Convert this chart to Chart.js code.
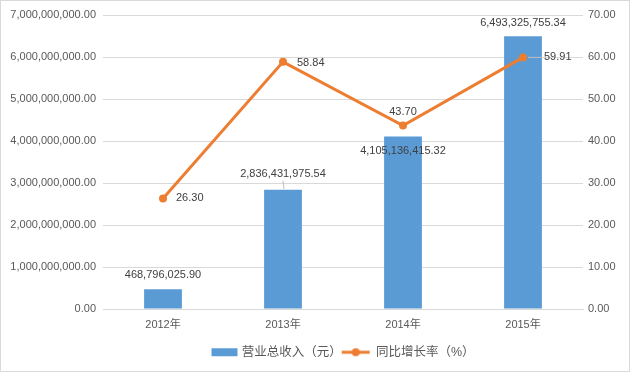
<!DOCTYPE html>
<html>
<head>
<meta charset="utf-8">
<script src="https://cdn.jsdelivr.net/npm/chart.js@4/dist/chart.umd.min.js"></script>
<style>
    body { margin: 0; background: #fff; }
    #wrap { width: 630px; height: 372px; box-sizing: border-box; border: 1px solid #d9d9d9; }
</style>
</head>
<body>
<div id="wrap"><canvas id="myChart" width="628" height="370"></canvas></div>
<script>
// revenue and growth, 2012-2015
const years = ['2012年', '2013年', '2014年', '2015年']
const revenue = [468796025.90, 2836431975.54, 4105136415.32, 6493325755.34]
const growth = [26.30, 58.84, 43.70, 59.91]
const revenueName = '营业总收入（元）'
const growthName = '同比增长率（%）'

// label placement, relative to the mark (dx, dy of the text)
const barLabelPos = [[0, -14], [0, -16], [0, 14], [0, -13]]
const lineLabelPos = [['left', 13, -1], ['left', 14, 1], ['center', 0, -13], ['left', 21, 0]]

const FONT = '"Liberation Sans", "Noto Sans CJK SC", sans-serif'
const BLUE = '#5B9BD5'
const ORANGE = '#ED7D31'

function fmtMoney(v) {
    return Number(v).toLocaleString('en-US', { minimumFractionDigits: 2, maximumFractionDigits: 2 })
}

// legend symbols (drawn centred on the legend box, so pad the canvas)
function makeSymbol(kind) {
    const c = document.createElement('canvas')
    c.width = 52
    c.height = 10
    const g = c.getContext('2d')
    if (kind == 'bar') {
        g.fillStyle = BLUE
        g.fillRect(14, 1, 26, 8)
    } else {
        g.strokeStyle = ORANGE
        g.lineWidth = 3
        g.beginPath()
        g.moveTo(10, 5)
        g.lineTo(38, 5)
        g.stroke()
        g.fillStyle = ORANGE
        g.beginPath()
        g.arc(24, 5, 4, 0, Math.PI * 2)
        g.fill()
    }
    return c
}
const legendSymbols = [makeSymbol('bar'), makeSymbol('line')]

const valueLabels = {
    id: 'valueLabels',
    afterDatasetsDraw(chart) {
        const ctx = chart.ctx
        ctx.save()
        ctx.font = '11px ' + FONT
        ctx.fillStyle = '#404040'
        ctx.textBaseline = 'middle'

        const bars = chart.getDatasetMeta(0).data
        bars.forEach((el, i) => {
            const [dx, dy] = barLabelPos[i]
            ctx.textAlign = 'center'
            ctx.fillText(fmtMoney(revenue[i]), el.x + dx, el.y + dy)
        })
        // small leader for 2013 bar label
        ctx.strokeStyle = '#bfbfbf'
        ctx.lineWidth = 1
        ctx.beginPath()
        ctx.moveTo(bars[1].x, bars[1].y + barLabelPos[1][1] + 7)
        ctx.lineTo(bars[1].x + 1, bars[1].y - 1)
        ctx.stroke()

        const pts = chart.getDatasetMeta(1).data
        pts.forEach((el, i) => {
            const [align, dx, dy] = lineLabelPos[i]
            ctx.textAlign = align
            ctx.fillText(growth[i].toFixed(2), el.x + dx, el.y + dy)
        })
        // leader for 2015 point label
        ctx.beginPath()
        ctx.moveTo(pts[3].x + 5, pts[3].y)
        ctx.lineTo(pts[3].x + lineLabelPos[3][1] - 2, pts[3].y)
        ctx.stroke()
        ctx.restore()
    }
}

const ctx = document.getElementById('myChart')
new Chart(ctx, {
    type: 'bar',
    data: {
        labels: years,
        datasets: [{
            type: 'bar',
            label: revenueName,
            data: revenue,
            backgroundColor: BLUE,
            yAxisID: 'y',
            order: 1,
            barPercentage: 0.63,
            categoryPercentage: 0.5
        }, {
            type: 'line',
            label: growthName,
            data: growth,
            borderColor: ORANGE,
            backgroundColor: ORANGE,
            borderWidth: 3,
            pointRadius: 4,
            pointBackgroundColor: ORANGE,
            pointBorderWidth: 0,
            tension: 0,
            yAxisID: 'y1',
            order: 0
        }]
    },
    options: {
        responsive: false,
        animation: false,
        layout: { padding: { top: 14, left: 0, right: 0, bottom: 2.5 } },
        scales: {
            x: {
                grid: { display: false, drawTicks: false },
                border: { color: '#d9d9d9' },
                ticks: { color: '#595959', font: { size: 11, family: FONT }, padding: 9 },
                afterFit(scale) { scale.height = 33 }
            },
            y: {
                position: 'left',
                min: 0,
                max: 7000000000,
                grid: { color: '#d9d9d9', drawTicks: false },
                border: { display: false },
                ticks: {
                    stepSize: 1000000000,
                    color: '#595959',
                    font: { size: 11, family: FONT },
                    padding: 7,
                    callback: (v) => fmtMoney(v)
                },
                afterFit(scale) { scale.width = 102 }
            },
            y1: {
                position: 'right',
                min: 0,
                max: 70,
                grid: { drawOnChartArea: false, drawTicks: false },
                border: { display: false },
                ticks: {
                    stepSize: 10,
                    color: '#595959',
                    font: { size: 11, family: FONT },
                    padding: 5,
                    callback: (v) => Number(v).toFixed(2)
                },
                afterFit(scale) { scale.width = 46 }
            }
        },
        plugins: {
            legend: {
                display: true,
                position: 'bottom',
                fullSize: false,
                labels: {
                    usePointStyle: true,
                    pointStyleWidth: 24,
                    color: '#595959',
                    font: { size: 12.5, family: FONT },
                    padding: 4,
                    generateLabels(chart) {
                        const items = Chart.defaults.plugins.legend.labels.generateLabels(chart)
                        items.forEach((it) => { it.pointStyle = legendSymbols[it.datasetIndex] })
                        return items.sort((a, b) => a.datasetIndex - b.datasetIndex)
                    }
                }
            },
            tooltip: { enabled: false }
        }
    },
    plugins: [valueLabels]
})
</script>
</body>
</html>
